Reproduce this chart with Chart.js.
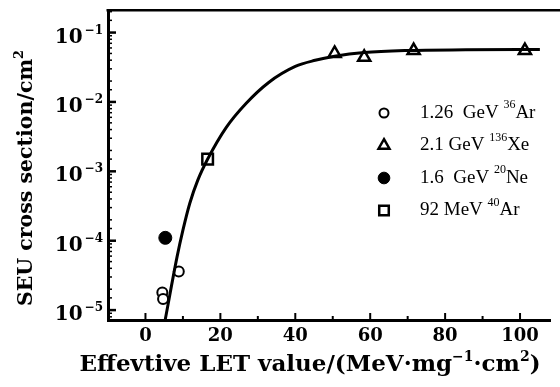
<!DOCTYPE html>
<html>
<head>
<meta charset="utf-8">
<script src="https://cdn.jsdelivr.net/npm/chart.js@4"></script>
<style>
  html, body { margin: 0; padding: 0; background: #fff; }
</style>
</head>
<body>
<canvas id="seuChart" width="560" height="387"></canvas>
<script>
'use strict';
// data (LET in MeV·mg^-1·cm^2, cross section in cm^2)
const AR126_LET = [4.5, 4.7, 8.9];
const AR126_SIG = [1.8e-5, 1.45e-5, 3.6e-5];
const XE_LET = [50.5, 58.4, 71.6, 101.3];
const XE_SIG = [0.050, 0.044, 0.055, 0.055];
const NE_LET = [5.3];
const NE_SIG = [1.1e-4];
const AR92_LET = [16.6];
const AR92_SIG = [1.5e-3];
// fitted curve, sampled along the drawn line
const FIT_LET = [5.26, 8.42, 10.0, 11.84, 13.95, 16.58, 21.58, 26.84, 32.9, 40.0, 45.3, 50.5, 58.4, 69.7, 85.5, 105.3];
const FIT_SIG = [7.2e-6, 5.8e-5, 1.42e-4, 3.47e-4, 7.4e-4, 1.49e-3, 4.3e-3, 9.5e-3, 0.0191, 0.0325, 0.0398, 0.0455, 0.0515, 0.0551, 0.0564, 0.0569];

const X_MIN = -10, X_MAX = 108, X_STEP = 10, X_LABEL_EVERY = 20;
const Y_MIN = 7.2e-6, Y_MAX = 0.21;

const LEGEND_LABELS = [
    [['1.26  GeV ', false], ['36', true], ['Ar', false]],
    [['2.1 GeV ', false], ['136', true], ['Xe', false]],
    [['1.6  GeV ', false], ['20', true], ['Ne', false]],
    [['92 MeV ', false], ['40', true], ['Ar', false]],
];
const X_TITLE = [['Effevtive LET value/(MeV·mg', false], ['−1', true], ['·cm', false], ['2', true], [')', false]];
const Y_TITLE = [['SEU cross section/cm', false], ['2', true]];

const zip = (xs, ys) => xs.map((x, i) => ({ x, y: ys[i] }));

const MARKERS = [
    { style: 'circle', radius: 5, fill: '#fff', border: 2 },
    { style: 'triangle', radius: 7, fill: '#fff', border: 2.5 },
    { style: 'circle', radius: 6.5, fill: '#000', border: 1 },
    { style: 'rect', radius: 7.5, fill: '#fff', border: 2.5 },
];

function pointSet(label, xs, ys, m) {
    return {
        label,
        data: zip(xs, ys),
        showLine: false,
        pointStyle: m.style,
        pointRadius: m.radius,
        pointBackgroundColor: m.fill,
        pointBorderColor: '#000',
        pointBorderWidth: m.border,
    };
}

// draws text with raised small parts, returns width
function drawRich(ctx, parts, x, y, size, family, weight, measureOnly) {
    let cx = x;
    for (const [t, sup] of parts) {
        const fs = sup ? Math.round(size * 0.62) : size;
        ctx.font = `${weight} ${fs}px ${family}`;
        if (!measureOnly) ctx.fillText(t, cx, sup ? y - size * 0.42 : y);
        cx += ctx.measureText(t).width;
    }
    return cx - x;
}

const isDecade = v => {
    const e = Math.log10(v);
    return Math.abs(e - Math.round(e)) < 1e-6;
};

const decor = {
    id: 'decor',
    afterDraw(chart) {
        const ctx = chart.ctx;
        const area = chart.chartArea;
        const xs = chart.scales.x, ys = chart.scales.y;
        const fam = "'DejaVu Serif', serif";
        ctx.save();
        ctx.strokeStyle = '#000';
        ctx.fillStyle = '#000';

        // top frame line
        ctx.lineWidth = 2.5;
        ctx.beginPath();
        ctx.moveTo(area.left - 1.5, area.top);
        ctx.lineTo(chart.width, area.top);
        ctx.stroke();

        // inward ticks on x
        ctx.lineWidth = 2;
        xs.ticks.forEach((t, i) => {
            if (t.value < 0 || t.value > 100) return;
            const px = xs.getPixelForTick(i);
            const len = t.value % X_LABEL_EVERY === 0 ? 7 : 4;
            ctx.beginPath();
            ctx.moveTo(px, area.bottom);
            ctx.lineTo(px, area.bottom - len);
            ctx.stroke();
        });
        // inward ticks and power-of-ten labels on y
        ctx.textBaseline = 'alphabetic';
        ctx.textAlign = 'left';
        ys.ticks.forEach((t, i) => {
            if (t.value <= Y_MIN * 1.001 || t.value >= Y_MAX / 1.001) return;
            const py = ys.getPixelForTick(i);
            const major = isDecade(t.value);
            ctx.lineWidth = major ? 2.5 : 1.5;
            ctx.beginPath();
            ctx.moveTo(area.left, py);
            ctx.lineTo(area.left + (major ? 8 : 4), py);
            ctx.stroke();
            if (major) {
                const ex = String(Math.round(Math.log10(t.value))).replace('-', '−');
                ctx.font = `bold 20px ${fam}`;
                const wb = ctx.measureText('10').width;
                ctx.font = `bold 12px ${fam}`;
                const we = ctx.measureText(ex).width;
                const x0 = area.left - 5 - (wb + 2 + we);
                ctx.font = `bold 20px ${fam}`;
                ctx.fillText('10', x0, py + 10);
                ctx.font = `bold 12px ${fam}`;
                ctx.fillText(ex, x0 + wb + 2, py + 1);
            }
        });

        // axis titles
        const wx = drawRich(ctx, X_TITLE, 0, 0, 23, fam, 'bold', true);
        drawRich(ctx, X_TITLE, 310 - wx / 2, 371, 23, fam, 'bold');

        ctx.save();
        ctx.translate(32, 178);
        ctx.rotate(-Math.PI / 2);
        const wy = drawRich(ctx, Y_TITLE, 0, 0, 20.5, fam, 'bold', true);
        drawRich(ctx, Y_TITLE, -wy / 2, 0, 20.5, fam, 'bold');
        ctx.restore();

        // legend
        const lfam = "'Liberation Serif', serif";
        LEGEND_LABELS.forEach((parts, i) => {
            const m = MARKERS[i];
            const y = 113 + i * 32.5;
            ctx.fillStyle = m.fill;
            ctx.strokeStyle = '#000';
            ctx.lineWidth = m.border;
            Chart.helpers.drawPoint(ctx, { pointStyle: m.style, radius: m.radius * 0.9, rotation: 0, borderWidth: m.border }, 384, y);
            ctx.fillStyle = '#000';
            ctx.textBaseline = 'middle';
            drawRich(ctx, parts, 420, y, 19, lfam, 'normal');
        });
        ctx.restore();
    },
};

const tickFont = { family: "'DejaVu Serif', serif", weight: 'bold', size: 18 };

new Chart(document.getElementById('seuChart'), {
    type: 'scatter',
    data: {
        datasets: [
            {
                label: 'fit',
                data: zip(FIT_LET, FIT_SIG),
                showLine: true,
                borderColor: '#000',
                borderWidth: 3,
                pointRadius: 0,
                cubicInterpolationMode: 'monotone',
            },
            pointSet('1.26 GeV 36Ar', AR126_LET, AR126_SIG, MARKERS[0]),
            pointSet('2.1 GeV 136Xe', XE_LET, XE_SIG, MARKERS[1]),
            pointSet('1.6 GeV 20Ne', NE_LET, NE_SIG, MARKERS[2]),
            pointSet('92 MeV 40Ar', AR92_LET, AR92_SIG, MARKERS[3]),
        ],
    },
    options: {
        responsive: false,
        animation: false,
        devicePixelRatio: 1,
        layout: { padding: { top: 10, right: 3, left: 0, bottom: 0 } },
        plugins: { legend: { display: false }, tooltip: { enabled: false } },
        scales: {
            x: {
                type: 'linear',
                min: X_MIN,
                max: X_MAX,
                grid: { display: false, drawTicks: false },
                border: { display: true, color: '#000', width: 3 },
                ticks: {
                    stepSize: X_STEP,
                    includeBounds: false,
                    autoSkip: false,
                    maxRotation: 0,
                    padding: 6,
                    color: '#000',
                    font: tickFont,
                    callback: v => (v >= 0 && v % X_LABEL_EVERY === 0 ? String(v) : ''),
                },
                afterFit: s => { s.height = 67; },
            },
            y: {
                type: 'logarithmic',
                min: Y_MIN,
                max: Y_MAX,
                grid: { display: false, drawTicks: false },
                border: { display: true, color: '#000', width: 3 },
                ticks: {
                    autoSkip: false,
                    // labels are drawn with real superscripts by the decor plugin
                    callback: () => '',
                },
                afterFit: s => { s.width = 108; },
            },
        },
    },
    plugins: [decor],
});
</script>
</body>
</html>
